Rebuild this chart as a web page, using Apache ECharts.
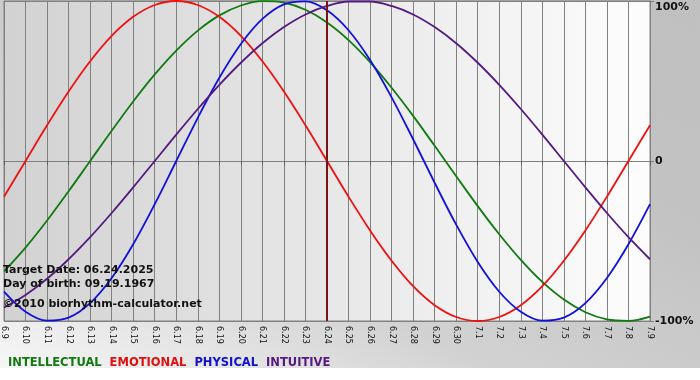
<!DOCTYPE html>
<html>
<head>
<meta charset="utf-8">
<script src="https://cdn.jsdelivr.net/npm/echarts@6/dist/echarts.min.js"></script>
<style>
  html, body { margin: 0; padding: 0; background: #ffffff; }
  #wrap { position: relative; width: 700px; height: 380px; }
  #bg { position: absolute; left: 0; top: 0; width: 700px; height: 368px;
        background: linear-gradient(to top right, #f6f6f6 0%, #d2d2d2 35%, #c2c2c2 70%, #c0c0c0 100%); }
  #chart { position: absolute; left: 0; top: 0; width: 700px; height: 380px; }
</style>
</head>
<body>
<div id="wrap"><div id="bg"></div><div id="chart"></div></div>
<script>
const categories = ['6.9','6.10','6.11','6.12','6.13','6.14','6.15','6.16','6.17','6.18','6.19','6.20','6.21','6.22','6.23','6.24','6.25','6.26','6.27','6.28','6.29','6.30','7.1','7.2','7.3','7.4','7.5','7.6','7.7','7.8','7.9'];
const intellectual = [-69.0,-54.1,-37.2,-18.9,0,18.9,37.2,54.1,69.0,81.5,91.0,97.2,99.9,99.0,94.5,86.6,75.6,61.8,45.8,28.2,9.5,-9.5,-28.2,-45.8,-61.8,-75.6,-86.6,-94.5,-99.0,-99.9,-97.2];
const emotional = [-22.3,0,22.3,43.4,62.3,78.2,90.1,97.5,100,97.5,90.1,78.2,62.3,43.4,22.3,0,-22.3,-43.4,-62.3,-78.2,-90.1,-97.5,-100,-97.5,-90.1,-78.2,-62.3,-43.4,-22.3,0,22.3];
const physical = [-81.7,-94.2,-99.8,-97.9,-88.8,-73.1,-52.0,-27.0,0,27.0,52.0,73.1,88.8,97.9,99.8,94.2,81.7,63.1,39.8,13.6,-13.6,-39.8,-63.1,-81.7,-94.2,-99.8,-97.9,-88.8,-73.1,-52.0,-27.0];
const intuitive = [-91.6,-83.7,-73.6,-61.4,-47.6,-32.5,-16.5,0,16.5,32.5,47.6,61.4,73.6,83.7,91.6,96.9,99.7,99.7,96.9,91.6,83.7,73.6,61.4,47.6,32.5,16.5,0,-16.5,-32.5,-47.6,-61.4];
const targetDate = '6.24';
const yTicks = {'100': '100%', '0': '0', '-100': '-100%'};
const infoLines = ['Target Date: 06.24.2025', 'Day of birth: 09.19.1967', '\u00a92010 biorhythm-calculator.net'];

const FONT = 'DejaVu Sans';
const chart = echarts.init(document.getElementById('chart'), null, {renderer: 'canvas'});

function line(name, data, color, extra) {
  return Object.assign({
    name: name, type: 'line', data: data, smooth: 0.35, symbol: 'none',
    lineStyle: {color: color, width: 1.8}, itemStyle: {color: color}, z: 3
  }, extra || {});
}

chart.setOption({
  backgroundColor: 'transparent',
  animation: false,
  grid: {
    left: 1, right: 50, top: 1, bottom: 59, show: true,
    borderColor: '#808080', borderWidth: 1,
    backgroundColor: {type: 'linear', x: 0, y: 0, x2: 1, y2: 0,
      colorStops: [{offset: 0, color: '#d2d2d2'}, {offset: 1, color: '#fdfdfd'}]}
  },
  legend: {
    left: 3, top: 357, padding: 0, itemWidth: 0, itemHeight: 0, itemGap: 3,
    selectedMode: false,
    textStyle: {fontFamily: FONT, fontWeight: 'bold', fontSize: 11.5, padding: 0},
    data: [
      {name: 'INTELLECTUAL', icon: 'none', textStyle: {color: '#117a11'}},
      {name: 'EMOTIONAL', icon: 'none', textStyle: {color: '#e01010'}},
      {name: 'PHYSICAL', icon: 'none', textStyle: {color: '#1010d0'}},
      {name: 'INTUITIVE', icon: 'none', textStyle: {color: '#551a80'}}
    ]
  },
  xAxis: {
    type: 'category', data: categories, boundaryGap: false,
    axisLine: {show: true, lineStyle: {color: '#808080'}},
    axisTick: {show: true, length: 4, lineStyle: {color: '#606060'}},
    splitLine: {show: true, lineStyle: {color: '#808080', width: 1}},
    axisLabel: {rotate: -90, interval: 0, fontFamily: FONT, fontSize: 8, color: '#111', margin: 5}
  },
  yAxis: {
    type: 'value', position: 'right', min: -100, max: 100, interval: 100,
    axisLine: {show: true, lineStyle: {color: '#808080'}},
    axisTick: {show: true, length: 4, lineStyle: {color: '#808080'}},
    splitLine: {show: true, lineStyle: {color: '#808080'}},
    axisLabel: {
      margin: 5, fontFamily: FONT, fontWeight: 'bold', fontSize: 11, color: '#111',
      formatter: function (v) {
        const t = yTicks[String(v)] || '';
        if (v === 100) return '{top|' + t + '}';
        return t;
      },
      rich: {top: {fontFamily: FONT, fontWeight: 'bold', fontSize: 11, color: '#111', padding: [12, 0, 0, 0]}}
    }
  },
  graphic: infoLines.map(function (t, i) {
    return {
      type: 'text', left: 3, top: [265, 279, 299][i], z: 10,
      style: {text: t, fontFamily: FONT, fontWeight: 'bold', fontSize: 11, fill: '#111'}
    };
  }),
  series: [
    line('INTELLECTUAL', intellectual, '#117a11'),
    line('EMOTIONAL', emotional, '#ee1111'),
    line('PHYSICAL', physical, '#1111dd'),
    line('INTUITIVE', intuitive, '#551a80', {
      markLine: {
        silent: true, symbol: 'none', label: {show: false},
        lineStyle: {color: '#7a1515', width: 2, type: 'solid'},
        data: [{xAxis: targetDate}]
      }
    })
  ]
});
</script>
</body>
</html>
